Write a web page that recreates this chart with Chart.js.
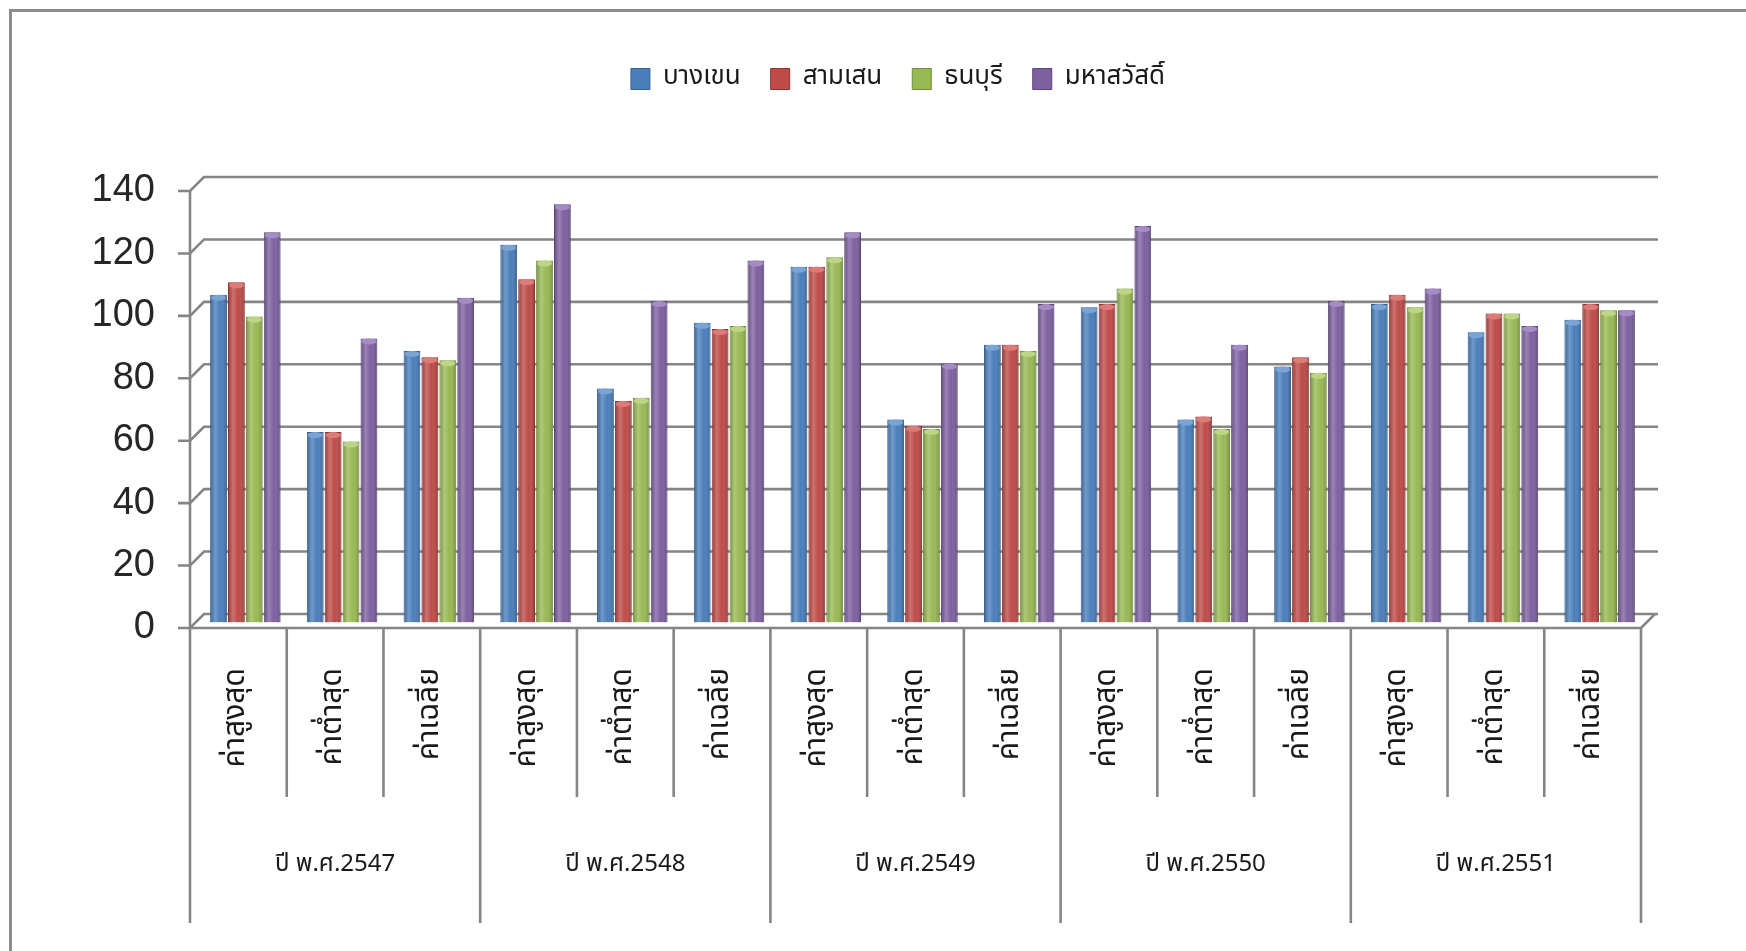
<!DOCTYPE html>
<html>
<head>
<meta charset="utf-8">
<script src="https://cdn.jsdelivr.net/npm/chart.js@4.4.1/dist/chart.umd.min.js"></script>
<style>
  html, body { margin: 0; padding: 0; background: #ffffff; }
  #wrap { position: relative; width: 1746px; height: 951px; }
</style>
</head>
<body>
<div id="wrap"><canvas id="c" width="1746" height="951"></canvas></div>
<script>
// ---- data ----
const years = ['ปี พ.ศ.2547', 'ปี พ.ศ.2548', 'ปี พ.ศ.2549', 'ปี พ.ศ.2550', 'ปี พ.ศ.2551'];
const stats = ['ค่าสูงสุด', 'ค่าต่ำสุด', 'ค่าเฉลี่ย'];
const seriesNames = ['บางเขน', 'สามเสน', 'ธนบุรี', 'มหาสวัสดิ์'];
const bangkhen  = [105, 61, 87, 121, 75, 96, 114, 65, 89, 101, 65, 82, 102, 93, 97];
const samsen    = [109, 61, 85, 110, 71, 94, 114, 63, 89, 102, 66, 85, 105, 99, 102];
const thonburi  = [98, 58, 84, 116, 72, 95, 117, 62, 87, 107, 62, 80, 101, 99, 100];
const mahasawat = [125, 91, 104, 134, 103, 116, 125, 83, 102, 127, 89, 103, 107, 95, 100];
const yTicks = [0, 20, 40, 60, 80, 100, 120, 140];

const labels = [];
years.forEach(() => stats.forEach(s => labels.push(s)));

const colors = ['#4a7ebb', '#be4b48', '#98b954', '#7d60a0'];
const borders = ['#35608f', '#8f3431', '#728c3c', '#5b4577'];
const caps = ['#7aa3d6', '#dc7b78', '#bcd685', '#a58cc4'];

const THAI = "'Noto Sans Thai', 'Noto Sans Thai UI', 'Noto Sans', sans-serif";
const GRID = '#858585';
const DX = 14, DY = 14;      // back-wall offset
const BX = 7, BY = 5.5;      // bar depth offset

const frame3d = {
  id: 'frame3d',
  beforeDraw(chart) {
    const ctx = chart.ctx;
    ctx.save();
    ctx.strokeStyle = '#8c8c8c';
    ctx.lineWidth = 3;
    ctx.beginPath();
    ctx.moveTo(10.5, chart.height);
    ctx.lineTo(10.5, 10.5);
    ctx.lineTo(chart.width, 10.5);
    ctx.stroke();
    ctx.restore();
  },
  beforeDatasetsDraw(chart) {
    const {ctx, chartArea: ca, scales: {x, y}} = chart;
    ctx.save();
    ctx.strokeStyle = GRID;
    ctx.lineWidth = 2.6;
    ctx.lineCap = 'butt';
    y.ticks.forEach(t => {
      const py = y.getPixelForValue(t.value);
      ctx.beginPath();
      ctx.moveTo(ca.left - 12, py);
      ctx.lineTo(ca.left, py);
      ctx.lineTo(ca.left + DX, py - DY);
      ctx.lineTo(ca.right + DX + 3, py - DY);
      ctx.stroke();
    });
    // front vertical axis
    ctx.beginPath();
    ctx.moveTo(ca.left, y.getPixelForValue(140));
    ctx.lineTo(ca.left, ca.bottom);
    ctx.stroke();
    ctx.restore();
    ctx.save();
    ctx.translate(BX, -BY);
  },
  afterDatasetsDraw(chart) {
    const ctx = chart.ctx;
    chart.data.datasets.forEach((ds, di) => {
      const meta = chart.getDatasetMeta(di);
      meta.data.forEach(el => {
        const w = el.width, left = el.x - w / 2, top = el.y, h = el.base - el.y;
        const g = ctx.createLinearGradient(left, 0, left + w, 0);
        g.addColorStop(0, 'rgba(0,0,0,0.22)');
        g.addColorStop(0.3, 'rgba(255,255,255,0.22)');
        g.addColorStop(0.6, 'rgba(255,255,255,0.0)');
        g.addColorStop(1, 'rgba(0,0,0,0.28)');
        ctx.fillStyle = g;
        ctx.fillRect(left + 1, top + 1, w - 2, h - 1);
        ctx.beginPath();
        ctx.ellipse(el.x, top + 3, w / 2 - 1, 3, 0, 0, Math.PI * 2);
        ctx.fillStyle = caps[di];
        ctx.fill();
      });
    });
    ctx.restore();
    // front floor line + right diagonal
    const {chartArea: ca, scales: {x, y}} = chart;
    ctx.save();
    ctx.strokeStyle = GRID;
    ctx.lineWidth = 2.6;
    const y0 = y.getPixelForValue(0);
    ctx.beginPath();
    ctx.moveTo(ca.left, y0);
    ctx.lineTo(ca.right, y0);
    ctx.lineTo(ca.right + DX, y0 - DY);
    ctx.stroke();
    // category and group dividers
    const n = labels.length;
    const step = (x.getPixelForValue(1) - x.getPixelForValue(0));
    for (let i = 0; i <= n; i++) {
      const bx = i === 0 ? ca.left : (i === n ? ca.right : x.getPixelForValue(i) - step / 2);
      const long = i % stats.length === 0;
      ctx.beginPath();
      ctx.moveTo(bx, y0);
      ctx.lineTo(bx, y0 + (long ? 295 : 169));
      ctx.stroke();
    }
    ctx.fillStyle = '#1a1a1a';
    ctx.font = '24px ' + THAI;
    ctx.textAlign = 'center';
    ctx.textBaseline = 'middle';
    years.forEach((yr, gi) => {
      const a = x.getPixelForValue(gi * 3) - step / 2;
      const b = x.getPixelForValue(gi * 3 + 2) + step / 2;
      ctx.fillText(yr, (a + b) / 2, y0 + 238);
    });
    ctx.restore();
  }
};

const makeDs = (label, data, i) => ({
  label, data,
  backgroundColor: colors[i],
  borderColor: borders[i],
  borderWidth: 1,
  barPercentage: 0.94,
  categoryPercentage: 0.74
});

new Chart(document.getElementById('c'), {
  type: 'bar',
  data: {
    labels,
    datasets: [
      makeDs(seriesNames[0], bangkhen, 0),
      makeDs(seriesNames[1], samsen, 1),
      makeDs(seriesNames[2], thonburi, 2),
      makeDs(seriesNames[3], mahasawat, 3)
    ]
  },
  options: {
    responsive: false,
    animation: false,
    devicePixelRatio: 1,
    layout: { padding: { left: 90, right: 40, top: 36, bottom: 0 } },
    plugins: {
      legend: {
        position: 'top',
        labels: {
          boxWidth: 19, boxHeight: 21, padding: 30,
          color: '#1a1a1a',
          font: { family: THAI, size: 26 }
        }
      },
      subtitle: {
        display: true,
        text: '',
        weight: 500,
        position: 'top',
        font: { size: 10 },
        padding: { top: 77, bottom: 0 }
      },
      tooltip: { enabled: false }
    },
    scales: {
      x: {
        grid: { display: false, drawTicks: false },
        border: { display: false },
        ticks: {
          minRotation: 90, maxRotation: 90, autoSkip: false,
          padding: 40,
          color: '#1a1a1a',
          font: { family: THAI, size: 30 }
        },
        afterFit(s) { s.height = 323; }
      },
      y: {
        min: 0, max: 140,
        grid: { display: false, drawTicks: false },
        border: { display: false },
        ticks: {
          stepSize: 20,
          padding: 35,
          autoSkip: false,
          color: '#262626',
          font: { family: "'Liberation Sans Narrow', 'Liberation Sans', sans-serif", size: 38 }
        },
        afterBuildTicks(s) { s.ticks = yTicks.map(v => ({ value: v })); },
        afterFit(s) { s.width = 100; }
      },
      yR: {
        position: 'right',
        min: 0, max: 140,
        grid: { display: false, drawTicks: false },
        border: { display: false },
        ticks: { display: false },
        afterFit(s) { s.width = 65; }
      }
    }
  },
  plugins: [frame3d]
});
</script>
</body>
</html>
